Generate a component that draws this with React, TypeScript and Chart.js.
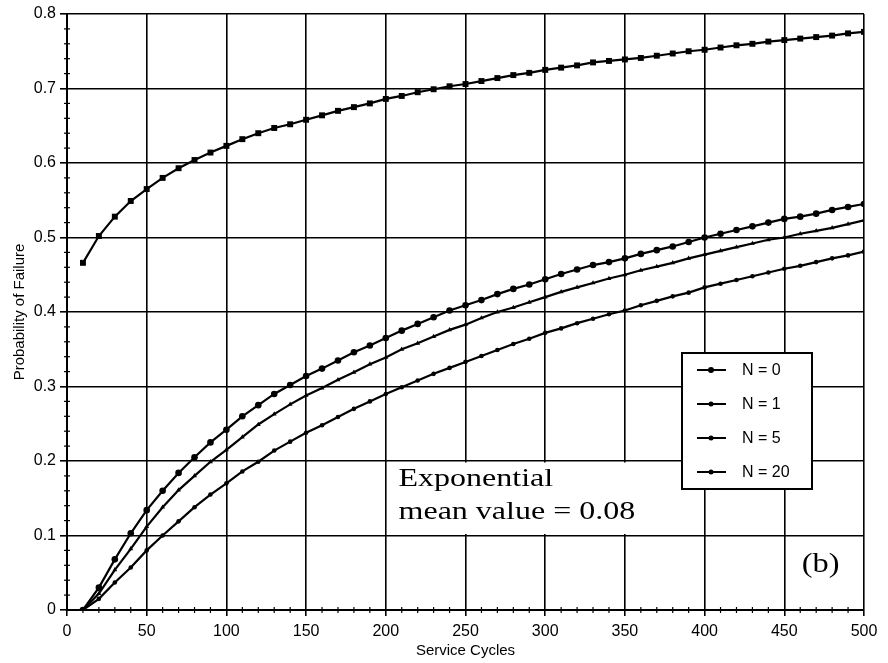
import React, { useEffect, useRef } from "react";
import { Chart, registerables } from "chart.js";

Chart.register(...registerables);

// Service cycles at which each curve is sampled
const cycles = [
  10, 20, 30, 40, 50, 60, 70, 80, 90, 100,
  110, 120, 130, 140, 150, 160, 170, 180, 190, 200,
  210, 220, 230, 240, 250, 260, 270, 280, 290, 300,
  310, 320, 330, 340, 350, 360, 370, 380, 390, 400,
  410, 420, 430, 440, 450, 460, 470, 480, 490, 500,
];

const probN0 = [
  0.466, 0.502, 0.528, 0.549, 0.565, 0.58, 0.593, 0.604, 0.614, 0.623,
  0.632, 0.64, 0.647, 0.652, 0.658, 0.664, 0.67, 0.675, 0.68, 0.686,
  0.69, 0.695, 0.699, 0.703, 0.706, 0.71, 0.714, 0.718, 0.721, 0.725,
  0.728, 0.731, 0.735, 0.737, 0.739, 0.741, 0.744, 0.747, 0.75, 0.752,
  0.755, 0.758, 0.76, 0.763, 0.765, 0.767, 0.769, 0.771, 0.774, 0.776,
];

const probN1 = [
  0, 0.03, 0.068, 0.103, 0.134, 0.16, 0.184, 0.205, 0.225, 0.242,
  0.26, 0.275, 0.29, 0.302, 0.314, 0.324, 0.335, 0.346, 0.355, 0.365,
  0.375, 0.384, 0.393, 0.402, 0.409, 0.416, 0.424, 0.431, 0.437, 0.444,
  0.451, 0.457, 0.463, 0.467, 0.472, 0.478, 0.483, 0.488, 0.494, 0.5,
  0.505, 0.51, 0.515, 0.52, 0.525, 0.528, 0.532, 0.537, 0.541, 0.545,
];

const probN5 = [
  0, 0.022, 0.054, 0.082, 0.112, 0.138, 0.161, 0.18, 0.199, 0.215,
  0.232, 0.249, 0.263, 0.276, 0.288, 0.298, 0.309, 0.319, 0.33, 0.339,
  0.35, 0.358, 0.367, 0.376, 0.383, 0.392, 0.4, 0.406, 0.413, 0.42,
  0.427, 0.433, 0.439, 0.445, 0.45, 0.456, 0.461, 0.466, 0.472, 0.477,
  0.482, 0.487, 0.492, 0.497, 0.5, 0.505, 0.509, 0.513, 0.518, 0.523,
];

const probN20 = [
  0, 0.015, 0.037, 0.057, 0.08, 0.1, 0.119, 0.138, 0.155, 0.17,
  0.186, 0.199, 0.214, 0.226, 0.238, 0.248, 0.259, 0.27, 0.28, 0.29,
  0.299, 0.308, 0.317, 0.325, 0.333, 0.341, 0.349, 0.357, 0.364, 0.372,
  0.378, 0.385, 0.391, 0.397, 0.402, 0.409, 0.415, 0.421, 0.426, 0.433,
  0.438, 0.443, 0.448, 0.453, 0.458, 0.462, 0.467, 0.472, 0.476, 0.481,
];

const seriesLabels = ["N = 0", "N = 1", "N = 5", "N = 20"];
const annotationLines = ["Exponential", "mean value = 0.08"];
const panelLabel = "(b)";

const toPoints = (ys: number[]) => cycles.map((c, i) => ({ x: c, y: ys[i] }));

const minorTicksPlugin = {
  id: "minorTicks",
  afterDraw(chart: any) {
    const { ctx, chartArea } = chart;
    const xs = chart.scales.x;
    const ys = chart.scales.y;
    ctx.save();
    ctx.strokeStyle = "#000";
    ctx.lineWidth = 1.2;
    for (let v = 10; v < 500; v += 10) {
      if (v % 50 === 0) continue;
      const px = xs.getPixelForValue(v);
      ctx.beginPath();
      ctx.moveTo(px, chartArea.bottom - 3);
      ctx.lineTo(px, chartArea.bottom + 3);
      ctx.stroke();
    }
    for (let k = 1; k < 40; k++) {
      if (k % 5 === 0) continue;
      const py = ys.getPixelForValue(k * 0.02);
      ctx.beginPath();
      ctx.moveTo(chartArea.left - 3, py);
      ctx.lineTo(chartArea.left + 3, py);
      ctx.stroke();
    }
    ctx.restore();
  },
};

const annotationPlugin = {
  id: "annotationText",
  beforeDatasetsDraw(chart: any) {
    const { ctx } = chart;
    const xs = chart.scales.x;
    const ys = chart.scales.y;
    ctx.save();
    // white background behind the annotation (hides grid lines)
    const bx0 = xs.getPixelForValue(200) + 1.5;
    const bx1 = xs.getPixelForValue(368);
    const by0 = ys.getPixelForValue(0.2) + 1.5;
    const by1 = ys.getPixelForValue(0.1) - 1.5;
    ctx.fillStyle = "#fff";
    ctx.fillRect(bx0, by0, bx1 - bx0, by1 - by0);

    ctx.fillStyle = "#000";
    ctx.textAlign = "left";
    ctx.textBaseline = "alphabetic";
    ctx.font = '25px "Liberation Serif", serif';
    const tx = xs.getPixelForValue(208);
    const baselines = [0.167, 0.122];
    annotationLines.forEach((t, i) => {
      ctx.save();
      ctx.translate(tx, ys.getPixelForValue(baselines[i]));
      ctx.scale(1.28, 1);
      ctx.fillText(t, 0, 0);
      ctx.restore();
    });
    ctx.font = '27px "Liberation Serif", serif';
    ctx.save();
    ctx.translate(xs.getPixelForValue(461), ys.getPixelForValue(0.051));
    ctx.scale(1.2, 1);
    ctx.fillText(panelLabel, 0, 0);
    ctx.restore();
    ctx.restore();
  },
};

const legendPlugin = {
  id: "boxLegend",
  afterDraw(chart: any) {
    const { ctx, chartArea } = chart;
    const left = chartArea.right - 182;
    const top = chartArea.bottom - 257;
    const w = 130;
    const h = 136;
    ctx.save();
    ctx.fillStyle = "#fff";
    ctx.fillRect(left, top, w, h);
    ctx.strokeStyle = "#000";
    ctx.lineWidth = 2;
    ctx.strokeRect(left, top, w, h);
    ctx.font = '16px "Liberation Sans", Arial, sans-serif';
    ctx.textBaseline = "middle";
    ctx.textAlign = "left";
    chart.data.datasets.forEach((ds: any, i: number) => {
      const ry = top + 17 + i * 34;
      ctx.beginPath();
      ctx.lineWidth = 2;
      ctx.moveTo(left + 15, ry);
      ctx.lineTo(left + 44, ry);
      ctx.stroke();
      ctx.beginPath();
      ctx.fillStyle = "#000";
      ctx.arc(left + 29, ry, i === 0 ? 3 : 2.5, 0, Math.PI * 2);
      ctx.fill();
      ctx.fillText(ds.label, left + 60, ry + 1);
    });
    ctx.restore();
  },
};

export default function App() {
  const canvasRef = useRef<HTMLCanvasElement | null>(null);

  useEffect(() => {
    if (!canvasRef.current) return;
    const styles = [
      { pointStyle: "rect", pointRadius: 4.2 },
      { pointStyle: "circle", pointRadius: 3.3 },
      { pointStyle: "triangle", pointRadius: 2.8 },
      { pointStyle: "circle", pointRadius: 2.3 },
    ];
    const series = [probN0, probN1, probN5, probN20];
    const chart = new Chart(canvasRef.current, {
      type: "line",
      data: {
        datasets: series.map((s, i) => ({
          label: seriesLabels[i],
          data: toPoints(s),
          borderColor: "#000",
          backgroundColor: "#000",
          borderWidth: 2.2,
          pointStyle: styles[i].pointStyle as any,
          pointRadius: styles[i].pointRadius,
          pointBorderWidth: 0,
          pointBackgroundColor: "#000",
          tension: 0,
          fill: false,
        })),
      },
      options: {
        responsive: false,
        animation: false,
        devicePixelRatio: 1,
        layout: { padding: { left: 0, right: 24, top: 14, bottom: 0 } },
        plugins: {
          legend: { display: false },
          tooltip: { enabled: false },
        },
        scales: {
          x: {
            type: "linear",
            min: 0,
            max: 500,
            ticks: {
              stepSize: 50,
              color: "#000",
              padding: 6,
              maxRotation: 0,
              font: { family: '"Liberation Sans", Arial, sans-serif', size: 16 },
            },
            grid: { color: "#000", lineWidth: 1.6, tickLength: 6 },
            border: { color: "#000", width: 2 },
            title: {
              display: true,
              text: "Service Cycles",
              color: "#000",
              padding: { top: 0, bottom: 3 },
              font: { family: '"Liberation Sans", Arial, sans-serif', size: 15 },
            },
            afterFit(scale: any) {
              scale.height = 53;
            },
          },
          y: {
            type: "linear",
            min: 0,
            max: 0.8,
            ticks: {
              stepSize: 0.1,
              color: "#000",
              padding: 4,
              font: { family: '"Liberation Sans", Arial, sans-serif', size: 16 },
              callback: (v: any) => String(Number(Number(v).toFixed(1))),
            },
            grid: { color: "#000", lineWidth: 1.6, tickLength: 7 },
            border: { color: "#000", width: 2 },
            title: {
              display: true,
              text: "Probability of Failure",
              color: "#000",
              padding: { top: 11, bottom: 0 },
              font: { family: '"Liberation Sans", Arial, sans-serif', size: 15 },
            },
            afterFit(scale: any) {
              scale.width = 67;
            },
          },
        },
      },
      plugins: [annotationPlugin, minorTicksPlugin, legendPlugin],
    });
    return () => chart.destroy();
  }, []);

  return (
    <div style={{ position: "fixed", left: 0, top: 0, width: 888, height: 663, background: "#fff" }}>
      <canvas ref={canvasRef} width={888} height={663} />
    </div>
  );
}
